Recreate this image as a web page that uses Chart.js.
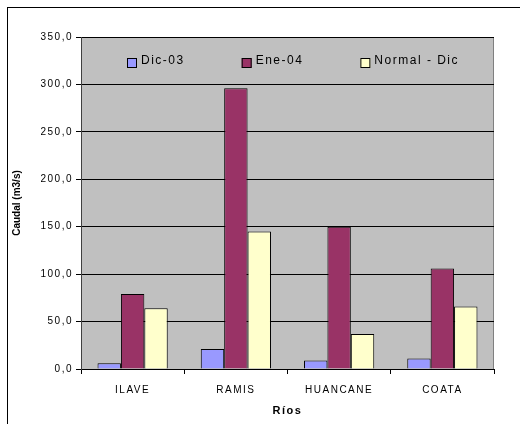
<!DOCTYPE html>
<html>
<head>
<meta charset="utf-8">
<script src="https://cdn.jsdelivr.net/npm/chart.js@4/dist/chart.umd.min.js"></script>
<style>
  body { margin: 0; background: #fff; }
  #wrap { position: relative; width: 520px; height: 424px; }
  #frame { position: absolute; left: 7px; top: 7px; right: 0; bottom: 0; border-left: 1px solid #000; border-top: 1px solid #000; }
  #c { position: absolute; left: 0; top: 0; }
</style>
</head>
<body>
<div id="wrap">
  <div id="frame"></div>
  <canvas id="c" width="520" height="424"></canvas>
</div>
<script>
// datos
const rios = ['ILAVE', 'RAMIS', 'HUANCANE', 'COATA'];
const dic03 = [6, 21, 9, 11];
const ene04 = [79, 296, 150, 106];
const normalDic = [64, 145, 37, 66];
const yTicks = [0, 50, 100, 150, 200, 250, 300, 350];

const FONT = '"Liberation Sans", Arial, sans-serif';
const SPACING = '1.5px';

// espaciado de letras como en el original
const spacingPlugin = {
  id: 'spacing',
  beforeUpdate(chart) { chart.ctx.letterSpacing = SPACING; },
  beforeDraw(chart) { chart.ctx.letterSpacing = SPACING; },
  afterLayout(chart) {
    // el titulo del eje Y va sin espaciado extra
    const ys = chart.scales.y;
    if (ys && !ys._noSpacing) {
      const orig = ys.drawTitle.bind(ys);
      ys.drawTitle = function () {
        const c = this.ctx;
        c.letterSpacing = '0px';
        orig();
        c.letterSpacing = SPACING;
      };
      ys._noSpacing = true;
    }
  }
};

// fondo gris del area de trazado
const plotBg = {
  id: 'plotBg',
  beforeDraw(chart) {
    const { ctx, chartArea: a } = chart;
    ctx.save();
    ctx.fillStyle = '#C0C0C0';
    ctx.fillRect(a.left, a.top, a.right - a.left, a.bottom - a.top);
    ctx.strokeStyle = '#808080';
    ctx.lineWidth = 1;
    ctx.strokeRect(a.left + 0.5, a.top + 0.5, a.right - a.left - 1, a.bottom - a.top);
    ctx.restore();
  }
};

// leyenda dentro del area de trazado
const innerLegend = {
  id: 'innerLegend',
  afterDraw(chart) {
    const { ctx, chartArea: a } = chart;
    ctx.save();
    ctx.letterSpacing = SPACING;
    ctx.font = '12px ' + FONT;
    ctx.textBaseline = 'middle';
    let x = a.left + 46;
    const y = a.top + 24;
    chart.data.datasets.forEach(ds => {
      ctx.fillStyle = ds.backgroundColor;
      ctx.fillRect(x, y - 3, 10, 10);
      ctx.strokeStyle = '#000';
      ctx.lineWidth = 1;
      ctx.strokeRect(x + 0.5, y - 2.5, 9, 9);
      ctx.fillStyle = '#000';
      ctx.fillText(ds.label, x + 14, y);
      x += 14 + ctx.measureText(ds.label).width + 57;
    });
    ctx.restore();
  }
};

const data = {
  labels: rios,
  datasets: [
    { label: 'Dic-03', data: dic03, backgroundColor: '#9999FF', borderColor: '#000', borderWidth: 1 },
    { label: 'Ene-04', data: ene04, backgroundColor: '#993366', borderColor: '#000', borderWidth: 1 },
    { label: 'Normal - Dic', data: normalDic, backgroundColor: '#FFFFCC', borderColor: '#000', borderWidth: 1 }
  ]
};

const config = {
  type: 'bar',
  data: data,
  options: {
    responsive: false,
    animation: false,
    layout: { padding: { top: 37, right: 26, left: 0, bottom: 0 } },
    datasets: { bar: { barPercentage: 1, categoryPercentage: 0.68 } },
    plugins: { legend: { display: false }, tooltip: { enabled: false } },
    scales: {
      x: {
        grid: { offset: true, drawOnChartArea: false, drawTicks: true, tickLength: 5, color: '#000' },
        border: { color: '#000' },
        ticks: { color: '#000', padding: 10, font: { family: FONT, size: 10 } },
        title: { display: true, text: 'Ríos', color: '#000', font: { family: FONT, size: 11, weight: 'bold' }, padding: { top: 0, bottom: 6 } },
        afterFit(scale) { scale.height = 55; }
      },
      y: {
        min: 0,
        max: 350,
        afterBuildTicks(scale) { scale.ticks = yTicks.map(v => ({ value: v })); },
        grid: { color: '#000', tickLength: 5 },
        border: { color: '#404040' },
        ticks: {
          color: '#000', padding: 3, font: { family: FONT, size: 10 },
          callback: v => v.toFixed(1).replace('.', ',')
        },
        title: { display: true, text: 'Caudal (m3/s)', color: '#000', font: { family: FONT, size: 10, weight: 'bold' }, padding: { top: 11, bottom: 0 } },
        afterFit(scale) { scale.width = 81; }
      }
    }
  },
  plugins: [spacingPlugin, plotBg, innerLegend]
};

new Chart(document.getElementById('c').getContext('2d'), config);
</script>
</body>
</html>
